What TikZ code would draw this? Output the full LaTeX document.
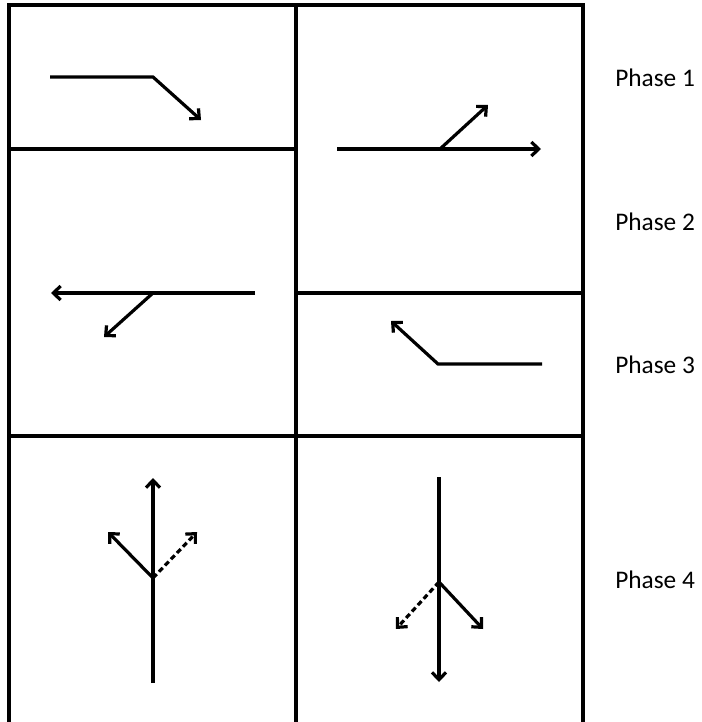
\documentclass[tikz,border=0pt]{standalone}
\usepackage{fontspec}
\setmainfont{Carlito}
\usetikzlibrary{arrows.meta}

\begin{document}
\begin{tikzpicture}[x=0.75pt, y=-0.75pt]
    % --- GLOBAL DEFINITIONS ---
    \def\xl{9}   % left edge of the grid
    \def\xm{296} % middle divider
    \def\xr{583} % right edge of the grid
    \def\yt{5}   % top edge
    \def\yb{722} % grid runs off the bottom

    % Grid lines and arrows
    \tikzset{
        gridline/.style={line width=2.6pt},
        flowarrow/.style={-{Straight Barb[length=5.5pt, width=10.5pt]}, line width=2.4pt},
        dasharrow/.style={flowarrow, dash pattern=on 4pt off 2.5pt},
        phaselabel/.style={anchor=west, inner sep=0pt, font=\fontsize{19}{23}\selectfont}
    }

    \useasboundingbox (0,0) rectangle (701,722);

    % GRID
    \draw[gridline] (\xl,\yb) -- (\xl,\yt) -- (\xr,\yt) -- (\xr,\yb);
    \draw[gridline] (\xm,\yt) -- (\xm,\yb);
    \draw[gridline] (\xl,149) -- (\xm,149);
    \draw[gridline] (\xm,293) -- (\xr,293);
    \draw[gridline] (\xl,436) -- (\xr,436);

    % PHASE 1
    \coordinate (pa1) at (153,77);
    \draw[flowarrow] (50,77) -- (pa1) -- (201,120);
    \coordinate (pb1) at (440,149);
    \draw[flowarrow] (337,149) -- (541,149);
    \draw[flowarrow] (pb1) -- (488,105);

    % PHASE 2
    \coordinate (pa2) at (153,293);
    \draw[flowarrow] (255,293) -- (51,293);
    \draw[flowarrow] (pa2) -- (104,337);

    % PHASE 3
    \coordinate (pb3) at (438,364);
    \draw[flowarrow] (542,364) -- (pb3) -- (391,321);

    % PHASE 4
    \coordinate (pa4) at (153,578);
    \draw[flowarrow] (153,683) -- (153,478);
    \draw[flowarrow] (pa4) -- (108,532);
    \draw[dasharrow] (pa4) -- (197,532);
    \coordinate (pb4) at (439,582);
    \draw[flowarrow] (439,477) -- (439,682);
    \draw[flowarrow] (pb4) -- (483,629);
    \draw[dasharrow] (pb4) -- (396,629);

    % LABELS
    \node[phaselabel] (ph1) at (615,78) {Phase 1};
    \node[phaselabel] (ph2) at (615,222) {Phase 2};
    \node[phaselabel] (ph3) at (615,365) {Phase 3};
    \node[phaselabel] (ph4) at (615,580) {Phase 4};
\end{tikzpicture}
\end{document}
